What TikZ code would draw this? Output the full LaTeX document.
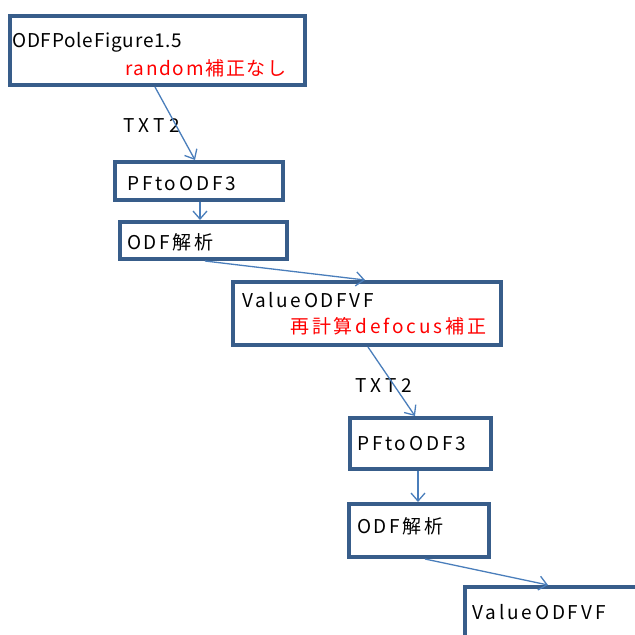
\documentclass[tikz,border=0pt]{standalone}
\usepackage{fontspec}
\setmainfont{Noto Sans CJK JP}
\usetikzlibrary{arrows.meta,calc}
\definecolor{boxblue}{HTML}{385D8A}
\definecolor{arrowblue}{HTML}{4A7EBB}
\begin{document}
\begin{tikzpicture}[x=1pt,y=-1pt,
  box/.style={draw=boxblue,line width=4pt,fill=white,rectangle,anchor=north west,inner sep=0pt},
  lbl/.style={anchor=base west,inner sep=0pt,font=\fontsize{19}{22}\selectfont\addfontfeature{LetterSpace=#1}},
  redlbl/.style={lbl=#1,text=red},
  conn/.style={draw=arrowblue,line width=1.3pt,-{Straight Barb[length=8pt,width=14pt,line width=1.3pt]}}]
\useasboundingbox (0,0) rectangle (635,635);
\clip (0,0) rectangle (635,635);
\node[box,minimum width=295pt,minimum height=69pt] (b1) at (8,14) {};
\node[box,minimum width=168pt,minimum height=38pt] (b2) at (113,160) {};
\node[box,minimum width=167pt,minimum height=37pt] (b3) at (118,220) {};
\node[box,minimum width=268pt,minimum height=63pt] (b4) at (231,280) {};
\node[box,minimum width=141pt,minimum height=51pt] (b5) at (348,416) {};
\node[box,minimum width=140pt,minimum height=53pt] (b6) at (347,502) {};
\node[box,minimum width=260pt,minimum height=120pt] (b7) at (463,585) {};
\node[lbl=4] (t1) at (12,47) {ODFPoleFigure1.5};
\node[redlbl=9] (r1) at (125,75) {random補正なし};
\node[lbl=15] (t2) at (127,190) {PFtoODF3};
\node[lbl=14] (t3) at (127,249) {ODF解析};
\node[lbl=14] (t4) at (242,307) {ValueODFVF};
\node[redlbl=15] (r2) at (290,333) {再計算defocus補正};
\node[lbl=15] (t5) at (357,450) {PFtoODF3};
\node[lbl=14] (t6) at (357,533) {ODF解析};
\node[lbl=15] (t7) at (472,619) {ValueODFVF};
\node[lbl=23] (x1) at (123,132) {TXT2};
\node[lbl=23] (x2) at (355,392) {TXT2};
\draw[conn] ([xshift=147pt]b1.south west) -- ([xshift=82pt]b2.north west);
\draw[conn] ([xshift=87pt]b2.south west) -- ([xshift=82pt]b3.north west);
\draw[conn] ([xshift=87pt]b3.south west) -- ([xshift=134pt]b4.north west);
\draw[conn] ([xshift=137pt]b4.south west) -- ([xshift=67pt]b5.north west);
\draw[conn] ([xshift=70pt]b5.south west) -- ([xshift=71pt]b6.north west);
\draw[conn] ([xshift=78pt]b6.south west) -- ([xshift=85pt]b7.north west);
\end{tikzpicture}
\end{document}
